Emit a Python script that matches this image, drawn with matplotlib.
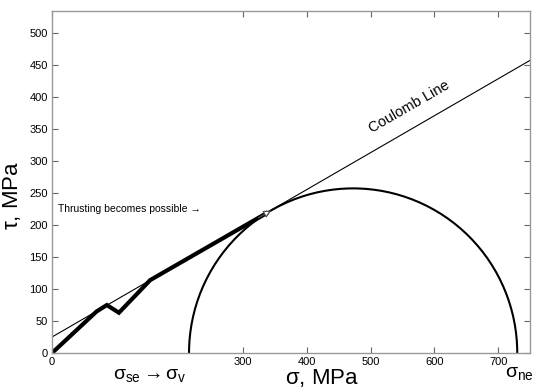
import matplotlib
matplotlib.use("Agg")
import matplotlib.pyplot as plt
from matplotlib.patches import Arc

plt.rcParams['font.family'] = ['Liberation Sans', 'DejaVu Sans']
plt.rcParams['mathtext.fontset'] = 'custom'
plt.rcParams['mathtext.rm'] = 'Liberation Sans'
plt.rcParams['mathtext.it'] = 'Liberation Sans'
plt.rcParams['mathtext.bf'] = 'Liberation Sans:bold'

# Data
cohesion = 25.0          # MPa, Coulomb line intercept
friction = 0.577         # slope of Coulomb line
circle_center = 472.5    # MPa
circle_radius = 257.5    # MPa
path_sigma = [0, 70, 86, 105, 154, 344]
path_tau = [0, 65, 75, 63, 114, 223]
xticks = [0, 300, 400, 500, 600, 700]
yticks = [0, 50, 100, 150, 200, 250, 300, 350, 400, 450, 500]

fig = plt.figure(figsize=(5.36, 3.90), dpi=100)
ax = fig.add_axes([52/536, 37/390, 478/536, 342/390])
ax.set_xlim(0, 750)
ax.set_ylim(0, 535)

# Coulomb line
ax.axline((0, cohesion), slope=friction, color='black', lw=0.8)
# Mohr circle (upper half)
ax.add_patch(Arc((circle_center, 0), 2*circle_radius, 2*circle_radius,
                 theta1=0, theta2=180, color='black', lw=1.5))
# Stress path
ax.plot(path_sigma[:-1] + [path_sigma[-1] - 8], path_tau[:-1] + [path_tau[-1] - 4.6],
        color='black', lw=3, solid_joinstyle='miter')
ax.annotate('', xy=(path_sigma[-1], path_tau[-1]),
            xytext=(path_sigma[-1]-20, path_tau[-1]-11.5),
            arrowprops=dict(arrowstyle='-|>', color='0.3', fc='white', lw=0.9,
                            mutation_scale=11, shrinkA=0, shrinkB=0))

ax.text(560, 385, 'Coulomb Line', rotation=30, ha='center', va='center',
        fontsize=10.5, rotation_mode='anchor')
ax.text(9, 225, 'Thrusting becomes possible \u2192', ha='left', va='center',
        fontsize=7.5)

ax.set_xticks(xticks)
ax.set_yticks(yticks)
ax.tick_params(direction='in', top=True, right=True, length=4, width=0.8,
               color='0.4', labelsize=8, pad=3)
for s in ax.spines.values():
    s.set_color('0.6')
    s.set_linewidth(1.0)

fig.text(12/536, 1 - 195/390, r'$\tau$, MPa', rotation=90, ha='center',
         va='center', fontsize=16)
fig.text(322/536, 1 - 378/390, r'$\sigma$, MPa', ha='center', va='center',
         fontsize=16)
fig.text(150/536, 1 - 376/390, r'$\sigma_{se} \rightarrow \sigma_{v}$',
         ha='center', va='center', fontsize=14)
fig.text(519/536, 1 - 374/390, r'$\sigma_{ne}$', ha='center', va='center',
         fontsize=14)

fig.savefig('out.png', dpi=100)
